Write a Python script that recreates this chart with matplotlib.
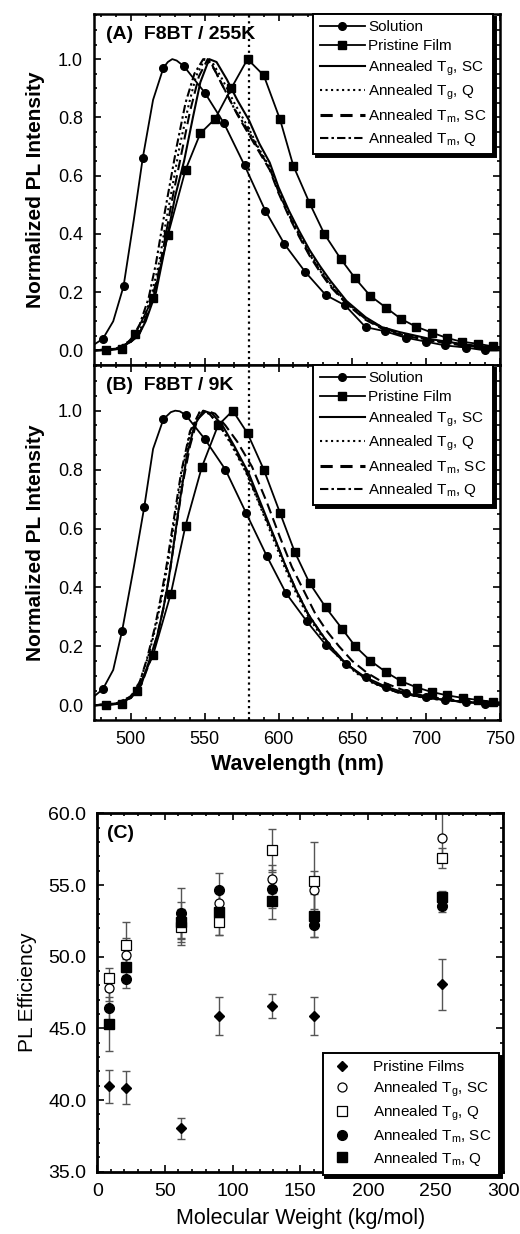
import matplotlib
matplotlib.use('Agg')
import matplotlib.pyplot as plt
from matplotlib.ticker import MultipleLocator, FormatStrFormatter
from matplotlib.lines import Line2D

plt.rcParams['font.family'] = ['Liberation Sans', 'DejaVu Sans']
plt.rcParams['mathtext.fontset'] = 'custom'
plt.rcParams['mathtext.rm'] = 'Liberation Sans'

# ---------------- panel A : 255K ----------------
sol_a_wl = [481, 495, 508, 522, 536, 550, 563, 577, 591, 604, 618, 632, 645, 659, 672, 686, 700, 713, 727, 740]
sol_a = [0.04, 0.22, 0.66, 0.97, 0.975, 0.885, 0.78, 0.635, 0.48, 0.365, 0.27, 0.19, 0.155, 0.08, 0.066, 0.044, 0.03, 0.017, 0.01, 0.0]
sol_a_xwl = [475, 488, 502, 515, 525, 528, 531, 750]
sol_a_x = [0.02, 0.10, 0.45, 0.86, 0.99, 1.0, 0.995, 0.0]

pf_a_wl = [483, 494, 503, 515, 525, 537, 547, 557, 568, 579, 590, 601, 610, 621, 631, 642, 652, 662, 673, 683, 693, 704, 714, 724, 735, 745]
pf_a = [0.0, 0.006, 0.057, 0.18, 0.395, 0.62, 0.745, 0.795, 0.90, 1.0, 0.944, 0.793, 0.634, 0.506, 0.40, 0.315, 0.247, 0.188, 0.146, 0.108, 0.082, 0.061, 0.043, 0.03, 0.023, 0.014]
pf_a_xwl = [475, 750]
pf_a_x = [0.0, 0.012]

tgsc_a_wl = [475, 490, 500, 505, 510, 517, 521, 525, 530, 536, 542, 547, 553, 558, 565, 572, 580, 587, 594, 600, 607, 614, 621, 628, 635, 646, 659, 670, 682, 704, 727, 750]
tgsc_a = [0.0, 0.005, 0.03, 0.05, 0.10, 0.20, 0.30, 0.40, 0.53, 0.65, 0.80, 0.92, 1.0, 0.99, 0.93, 0.86, 0.79, 0.71, 0.645, 0.56, 0.48, 0.41, 0.345, 0.29, 0.24, 0.17, 0.114, 0.08, 0.063, 0.038, 0.02, 0.008]

tgq_a_wl = [475, 490, 500, 507, 514, 519, 523, 528, 533, 539, 544, 550, 555, 562, 570, 580, 587, 594, 600, 607, 614, 621, 628, 635, 646, 659, 670, 682, 704, 727, 750]
tgq_a = [0.0, 0.005, 0.03, 0.08, 0.19, 0.30, 0.42, 0.56, 0.70, 0.84, 0.94, 1.0, 0.99, 0.93, 0.85, 0.76, 0.69, 0.63, 0.55, 0.47, 0.40, 0.335, 0.28, 0.23, 0.165, 0.11, 0.08, 0.06, 0.035, 0.018, 0.008]

tmsc_a_wl = [475, 490, 500, 506, 512, 518, 523, 528, 534, 540, 546, 552, 557, 564, 572, 580, 587, 594, 600, 607, 614, 621, 628, 635, 646, 659, 670, 682, 704, 727, 750]
tmsc_a = [0.0, 0.005, 0.03, 0.06, 0.14, 0.25, 0.38, 0.52, 0.67, 0.82, 0.94, 1.0, 0.96, 0.89, 0.81, 0.74, 0.68, 0.62, 0.54, 0.46, 0.39, 0.325, 0.27, 0.22, 0.16, 0.105, 0.075, 0.055, 0.032, 0.016, 0.007]

tmq_a_wl = [475, 490, 500, 506, 512, 517, 521, 526, 531, 537, 543, 549, 555, 562, 570, 580, 587, 594, 600, 607, 614, 621, 628, 635, 646, 659, 670, 682, 704, 727, 750]
tmq_a = [0.0, 0.006, 0.035, 0.09, 0.18, 0.30, 0.42, 0.56, 0.70, 0.85, 0.95, 1.0, 0.98, 0.91, 0.83, 0.75, 0.685, 0.625, 0.545, 0.465, 0.395, 0.33, 0.275, 0.225, 0.162, 0.108, 0.078, 0.058, 0.033, 0.017, 0.008]

# ---------------- panel B : 9K ----------------
sol_b_wl = [481, 494, 509, 522, 537, 550, 564, 578, 592, 605, 619, 632, 646, 659, 673, 686, 700, 713, 727, 740]
sol_b = [0.055, 0.252, 0.672, 0.971, 0.986, 0.904, 0.80, 0.653, 0.507, 0.381, 0.286, 0.205, 0.14, 0.095, 0.063, 0.042, 0.028, 0.018, 0.01, 0.005]
sol_b_xwl = [475, 488, 502, 515, 527, 530, 533, 750]
sol_b_x = [0.03, 0.12, 0.47, 0.87, 0.995, 1.0, 0.998, 0.003]

pf_b_wl = [483, 494, 504, 515, 527, 537, 548, 559, 569, 579, 590, 601, 611, 621, 632, 643, 652, 662, 673, 683, 694, 704, 714, 725, 735, 745]
pf_b = [0.0, 0.006, 0.05, 0.17, 0.378, 0.61, 0.808, 0.95, 1.0, 0.923, 0.80, 0.653, 0.52, 0.415, 0.332, 0.26, 0.20, 0.152, 0.112, 0.082, 0.06, 0.045, 0.034, 0.025, 0.018, 0.012]
pf_b_xwl = [475, 750]
pf_b_x = [0.0, 0.01]

tgsc_b_wl = [475, 490, 500, 507, 513, 518, 522, 525, 528, 533, 538, 543, 549, 555, 562, 570, 580, 590, 598, 605, 612, 620, 628, 636, 645, 655, 665, 680, 700, 725, 750]
tgsc_b = [0.0, 0.005, 0.025, 0.07, 0.16, 0.24, 0.33, 0.41, 0.51, 0.69, 0.85, 0.95, 1.0, 0.99, 0.95, 0.88, 0.785, 0.66, 0.56, 0.47, 0.39, 0.31, 0.25, 0.195, 0.145, 0.105, 0.075, 0.045, 0.025, 0.012, 0.005]

tgq_b_wl = [475, 490, 500, 506, 512, 517, 521, 525, 530, 535, 540, 547, 553, 560, 568, 578, 588, 596, 604, 611, 619, 627, 635, 644, 654, 664, 680, 700, 725, 750]
tgq_b = [0.0, 0.006, 0.03, 0.08, 0.17, 0.27, 0.37, 0.48, 0.64, 0.80, 0.92, 1.0, 0.99, 0.95, 0.885, 0.79, 0.67, 0.57, 0.47, 0.39, 0.31, 0.25, 0.195, 0.145, 0.105, 0.075, 0.045, 0.024, 0.012, 0.005]

tmsc_b_wl = [475, 490, 500, 507, 513, 518, 522, 526, 530, 535, 540, 545, 551, 557, 564, 572, 582, 592, 601, 609, 617, 625, 633, 641, 650, 660, 670, 685, 700, 725, 750]
tmsc_b = [0.0, 0.005, 0.025, 0.07, 0.15, 0.24, 0.33, 0.44, 0.58, 0.75, 0.88, 0.97, 1.0, 0.99, 0.95, 0.895, 0.81, 0.69, 0.57, 0.47, 0.39, 0.31, 0.25, 0.20, 0.15, 0.11, 0.08, 0.05, 0.03, 0.014, 0.006]

tmq_b_wl = [475, 490, 500, 506, 511, 516, 520, 524, 529, 534, 540, 547, 553, 560, 568, 578, 588, 597, 605, 612, 620, 628, 636, 645, 655, 665, 680, 700, 725, 750]
tmq_b = [0.0, 0.006, 0.03, 0.08, 0.16, 0.26, 0.36, 0.47, 0.63, 0.79, 0.93, 1.0, 0.99, 0.95, 0.89, 0.795, 0.675, 0.57, 0.47, 0.39, 0.31, 0.25, 0.195, 0.145, 0.105, 0.075, 0.045, 0.024, 0.012, 0.005]

marker_line_wl = 580

# ---------------- panel C : PL efficiency ----------------
mw = [9, 21, 62, 90, 129, 160, 255]
pristine_eff = [40.97, 40.85, 38.02, 45.86, 46.55, 45.86, 48.07]
pristine_err = [1.15, 1.15, 0.75, 1.35, 0.85, 1.35, 1.8]
tg_sc_eff = [47.8, 50.1, 52.3, 53.72, 55.42, 54.65, 58.3]
tg_sc_err = [0.9, 1.2, 1.0, 1.0, 1.0, 1.3, 1.7]
tg_q_eff = [48.5, 50.8, 52.04, 52.44, 57.44, 55.28, 56.86]
tg_q_err = [0.7, 1.6, 1.2, 0.9, 1.5, 2.7, 0.7]
tm_sc_eff = [46.4, 48.42, 53.02, 54.65, 54.72, 52.2, 53.53]
tm_sc_err = [1.2, 0.6, 1.8, 1.2, 1.3, 0.8, 0.4]
tm_q_eff = [45.3, 49.25, 52.44, 53.13, 53.9, 52.85, 54.18]
tm_q_err = [1.9, 0.6, 1.4, 1.6, 1.3, 1.5, 0.4]

lab_tgsc = r'Annealed T$_\mathregular{g}$, SC'
lab_tgq = r'Annealed T$_\mathregular{g}$, Q'
lab_tmsc = r'Annealed T$_\mathregular{m}$, SC'
lab_tmq = r'Annealed T$_\mathregular{m}$, Q'


def merged(wl, val, xwl, xval):
    pts = sorted(zip(list(wl) + list(xwl), list(val) + list(xval)))
    return [p[0] for p in pts], [p[1] for p in pts]


def style_ax(ax, lw=1.8):
    for s in ax.spines.values():
        s.set_linewidth(lw)
    ax.tick_params(which='both', direction='in', top=True, right=True, width=1.2)
    ax.tick_params(which='major', length=5, labelsize=13, pad=8)
    ax.tick_params(which='minor', length=2.5)


def spectra_panel(ax, title, sol, pf, curves):
    lw = 1.3
    x, y = merged(*sol)
    ax.plot(x, y, color='k', lw=lw)
    ax.plot(sol[0], sol[1], 'o', color='k', ms=5.5)
    x, y = merged(*pf)
    ax.plot(x, y, color='k', lw=lw)
    ax.plot(pf[0], pf[1], 's', color='k', ms=5.5)
    for (wl, val), ls in zip(curves, ['-', ':', (0, (5, 2.5)), (0, (4, 1.5, 1.2, 1.5))]):
        ax.plot(wl, val, color='k', lw=1.5, ls=ls)
    ax.axvline(marker_line_wl, color='k', ls=':', lw=1.6)
    ax.set_xlim(475, 750)
    ax.set_ylim(-0.05, 1.155)
    ax.xaxis.set_major_locator(MultipleLocator(50))
    ax.xaxis.set_minor_locator(MultipleLocator(10))
    ax.yaxis.set_major_locator(MultipleLocator(0.2))
    ax.yaxis.set_minor_locator(MultipleLocator(0.05))
    ax.yaxis.set_major_formatter(FormatStrFormatter('%.1f'))
    style_ax(ax)
    ax.set_ylabel('Normalized PL Intensity', fontsize=15, fontweight='bold', labelpad=9)
    ax.text(0.03, 0.965, title, transform=ax.transAxes, fontsize=14,
            fontweight='bold', va='top', ha='left')
    handles = [
        Line2D([], [], color='k', lw=lw, marker='o', ms=5.5),
        Line2D([], [], color='k', lw=lw, marker='s', ms=5.5),
        Line2D([], [], color='k', lw=1.5, ls='-'),
        Line2D([], [], color='k', lw=1.5, ls=':'),
        Line2D([], [], color='k', lw=2.2, ls=(0, (4, 2.5))),
        Line2D([], [], color='k', lw=1.5, ls=(0, (4, 1.5, 1.2, 1.5))),
    ]
    labels = ['Solution', 'Pristine Film', lab_tgsc, lab_tgq, lab_tmsc, lab_tmq]
    leg = ax.legend(handles, labels, loc='upper right', bbox_to_anchor=(0.983, 1.0),
                    fontsize=11, frameon=True, fancybox=False, framealpha=1,
                    edgecolor='k', handlelength=3.0, handletextpad=0.2,
                    labelspacing=0.33, borderpad=0.4, borderaxespad=0,
                    shadow={'color': 'k', 'alpha': 1})
    leg.get_frame().set_linewidth(1.4)


fig = plt.figure(figsize=(5.2, 12.34), dpi=100)

ax_a = fig.add_axes([0.1808, 0.7042, 0.7807, 0.2845])
ax_b = fig.add_axes([0.1808, 0.4165, 0.7807, 0.2877])

spectra_panel(ax_a, '(A)  F8BT / 255K',
              (sol_a_wl, sol_a, sol_a_xwl, sol_a_x),
              (pf_a_wl, pf_a, pf_a_xwl, pf_a_x),
              [(tgsc_a_wl, tgsc_a), (tgq_a_wl, tgq_a), (tmsc_a_wl, tmsc_a), (tmq_a_wl, tmq_a)])
spectra_panel(ax_b, '(B)  F8BT / 9K',
              (sol_b_wl, sol_b, sol_b_xwl, sol_b_x),
              (pf_b_wl, pf_b, pf_b_xwl, pf_b_x),
              [(tgsc_b_wl, tgsc_b), (tgq_b_wl, tgq_b), (tmsc_b_wl, tmsc_b), (tmq_b_wl, tmq_b)])
ax_a.tick_params(labelbottom=False)
ax_b.set_xlabel('Wavelength (nm)', fontsize=15.5, fontweight='bold', labelpad=4)

# panel C
ax_c = fig.add_axes([0.1871, 0.0505, 0.7808, 0.2904])
ecol = '#555555'
series = [
    (pristine_eff, pristine_err, dict(marker='D', mfc='k', mec='k', ms=5), 'Pristine Films'),
    (tg_sc_eff, tg_sc_err, dict(marker='o', mfc='white', mec='k', ms=6.5, mew=0.9), lab_tgsc),
    (tg_q_eff, tg_q_err, dict(marker='s', mfc='white', mec='k', ms=6.5, mew=0.9), lab_tgq),
    (tm_sc_eff, tm_sc_err, dict(marker='o', mfc='k', mec='k', ms=7), lab_tmsc),
    (tm_q_eff, tm_q_err, dict(marker='s', mfc='k', mec='k', ms=6.5), lab_tmq),
]
for eff, err, _, _ in series:
    ax_c.errorbar(mw, eff, yerr=err, fmt='none', ecolor=ecol, elinewidth=1.0, capsize=3, capthick=1.0)
for eff, err, mk, lab in series:
    ax_c.plot(mw, eff, ls='none', label=lab, **mk)

ax_c.set_xlim(0, 300)
ax_c.set_ylim(35, 60)
ax_c.xaxis.set_major_locator(MultipleLocator(50))
ax_c.xaxis.set_minor_locator(MultipleLocator(10))
ax_c.yaxis.set_major_locator(MultipleLocator(5))
ax_c.yaxis.set_minor_locator(MultipleLocator(1))
ax_c.yaxis.set_major_formatter(FormatStrFormatter('%.1f'))
style_ax(ax_c, lw=2.0)
ax_c.tick_params(which='major', labelsize=14)
ax_c.set_xlabel('Molecular Weight (kg/mol)', fontsize=15.5, labelpad=6)
ax_c.set_ylabel('PL Efficiency', fontsize=15, labelpad=8)
ax_c.text(0.025, 0.967, '(C)', transform=ax_c.transAxes, fontsize=14,
          fontweight='bold', va='top', ha='left')
leg = ax_c.legend(loc='lower right', bbox_to_anchor=(0.99, -0.01), fontsize=11,
                  frameon=True, fancybox=False, framealpha=1, edgecolor='k',
                  handlelength=1.5, handletextpad=1.3, labelspacing=0.3,
                  borderpad=0.5, borderaxespad=0, shadow={'color': 'k', 'alpha': 1})
leg.get_frame().set_linewidth(1.4)

fig.savefig('out.png', dpi=100)
